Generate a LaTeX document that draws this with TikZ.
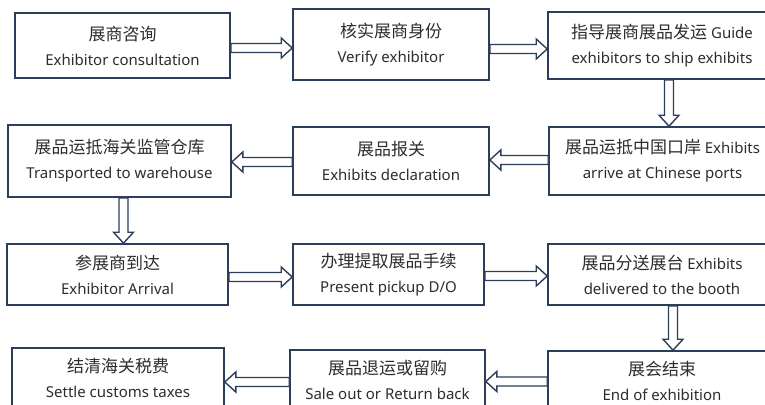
\documentclass[tikz,border=0pt]{standalone}
\usepackage{fontspec}
\setmainfont{Noto Sans}
\newfontfamily\cjkfont{Noto Sans CJK SC}
\newcommand\zh[1]{{\cjkfont\fontsize{17}{25}\selectfont #1}}
\usetikzlibrary{calc}
\definecolor{boxline}{RGB}{44,62,90}
\definecolor{txt}{RGB}{45,45,45}
\tikzset{
 flowbox/.style={draw=boxline, line width=1.6pt, fill=white, text=txt, align=center, inner sep=0pt, font=\fontsize{15}{25}\selectfont},
 harrow/.style={draw=boxline, line width=1.4pt, fill=white, line join=miter,
   to path={let \p1=(\tikztostart), \p2=(\tikztotarget), \n1={sign(\x2-\x1)} in
   (\x1,\y1-4.5pt) -- (\x2-\n1*11pt,\y1-4.5pt) -- (\x2-\n1*11pt,\y1-10pt) -- (\x2,\y1) -- (\x2-\n1*11pt,\y1+10pt) -- (\x2-\n1*11pt,\y1+4.5pt) -- (\x1,\y1+4.5pt) -- cycle}},
 varrow/.style={draw=boxline, line width=1.4pt, fill=white, line join=miter,
   to path={let \p1=(\tikztostart), \p2=(\tikztotarget) in
   (\x1-4.5pt,\y1) -- (\x1-4.5pt,\y2+11pt) -- (\x1-10pt,\y2+11pt) -- (\x1,\y2) -- (\x1+10pt,\y2+11pt) -- (\x1+4.5pt,\y2+11pt) -- (\x1+4.5pt,\y1) -- cycle}}
}
\begin{document}
\begin{tikzpicture}[x=1pt,y=-1pt]
\path[use as bounding box] (0,0) rectangle (765,404);
\clip (0,0) rectangle (765,404);
% row 1
\node[flowbox, minimum width=215pt, minimum height=65pt] (A1) at (122.5,45.5) {\zh{展商咨询}\\Exhibitor consultation};
\node[flowbox, minimum width=196pt, minimum height=71pt] (A2) at (391,44.5) {\zh{核实展商身份}\\Verify exhibitor};
\node[flowbox, minimum width=228pt, minimum height=67pt] (A3) at (662,45.5) {\zh{指导展商展品发运} Guide\\exhibitors to ship exhibits};
% row 2
\node[flowbox, minimum width=227pt, minimum height=68pt] (B3) at (662.5,161) {\zh{展品运抵中国口岸} Exhibits\\arrive at Chinese ports};
\node[flowbox, minimum width=196pt, minimum height=68pt] (B2) at (391,161) {\zh{展品报关}\\Exhibits declaration};
\node[flowbox, minimum width=223pt, minimum height=72pt] (B1) at (119.5,161) {\zh{展品运抵海关监管仓库}\\Transported to warehouse};
% row 3
\node[flowbox, minimum width=221pt, minimum height=61pt] (C1) at (117.5,274.5) {\zh{参展商到达}\\Exhibitor Arrival};
\node[flowbox, minimum width=191pt, minimum height=61pt] (C2) at (388.5,274.5) {\zh{办理提取展品手续}\\Present pickup D/O};
\node[flowbox, minimum width=228pt, minimum height=61pt] (C3) at (662,274.5) {\zh{展品分送展台} Exhibits\\delivered to the booth};
% row 4
\node[flowbox, minimum width=228pt, minimum height=60pt] (D3) at (662,381) {\zh{展会结束}\\End of exhibition};
\node[flowbox, minimum width=195pt, minimum height=60pt] (D2) at (387.5,380) {\zh{展品退运或留购}\\Sale out or Return back};
\node[flowbox, minimum width=212pt, minimum height=60pt] (D1) at (118,378) {\zh{结清海关税费}\\Settle customs taxes};
% arrows
\draw[harrow] ([yshift=-2.5pt]A1.east) to (A2.west);
\draw[harrow] ([yshift=-4.5pt]A2.east) to (A3.west);
\draw[varrow] ([xshift=7pt]A3.south) to (B3.north);
\draw[harrow] ([yshift=1pt]B3.west) to (B2.east);
\draw[harrow] ([yshift=-1pt]B2.west) to (B1.east);
\draw[varrow] ([xshift=4pt]B1.south) to (C1.north);
\draw[harrow] ([yshift=-2.5pt]C1.east) to (C2.west);
\draw[harrow] ([yshift=-1.5pt]C2.east) to (C3.west);
\draw[varrow] ([xshift=11pt]C3.south) to (D3.north);
\draw[harrow] ([yshift=-0.5pt]D3.west) to (D2.east);
\draw[harrow] ([yshift=-2pt]D2.west) to (D1.east);
\end{tikzpicture}
\end{document}
